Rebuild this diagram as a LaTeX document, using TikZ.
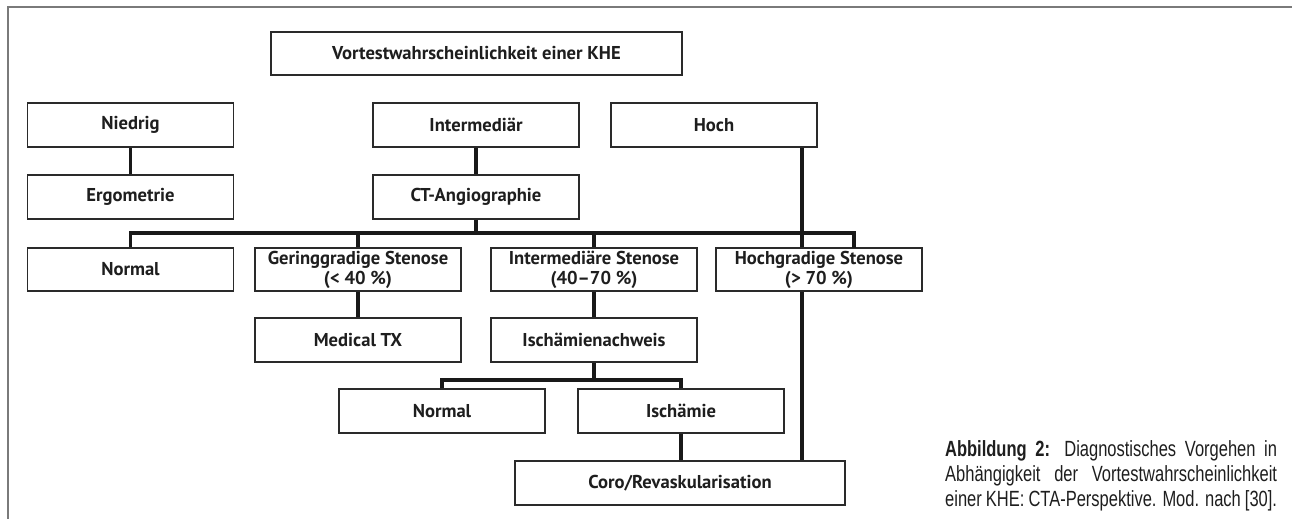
\documentclass[tikz,border=0pt]{standalone}
\usepackage{fontspec}
\setmainfont{PT Sans}
\newfontfamily\capfont{Liberation Sans}
\usepackage{tikz}
\usetikzlibrary{positioning, calc}

\definecolor{framegray}{HTML}{7A7A7A}
\definecolor{boxline}{HTML}{2A2A2A}
\definecolor{textdark}{HTML}{1E1E1E}

\begin{document}
\begin{tikzpicture}[x=1pt, y=-1pt,
    box/.style={draw=boxline, line width=1.3pt, fill=white, text=textdark,
      minimum width=206pt, minimum height=43pt, inner sep=0pt, align=center,
      font=\bfseries\fontsize{18.6}{20}\selectfont},
    link/.style={line width=3.6pt, black!90, line join=miter},
    caption/.style={text=textdark, inner sep=0pt, align=justify, text width=442.6pt,
      xscale=0.75, transform shape, font=\capfont\fontsize{22}{25}\selectfont}]
  \useasboundingbox (0,0) rectangle (1292,519);

  % Frame
  \draw[framegray, line width=1.5pt] (1292,7) -- (8,7) -- (8,519);

  % Pretest probability
  \node[box, minimum width=411pt] (title) at (476.5,53.5) {Vortestwahrscheinlichkeit einer KHE};
  \node[box, minimum height=44pt] (niedrig) at (130.5,125) {Niedrig};
  \node[box, minimum height=44pt] (inter) at (476,125) {Intermediär};
  \node[box, minimum height=44pt] (hoch) at (714,125) {Hoch};

  % First test
  \node[box, minimum height=44pt] (ergo) at (130.5,197) {Ergometrie};
  \node[box, minimum height=44pt] (cta) at (476,197) {CT-Angiographie};

  % CTA result
  \node[box] (normal) at (130.5,269.5) {Normal};
  \node[box] (gering) at (358,269.5) {Geringgradige Stenose\\(< 40 \%)};
  \node[box] (interst) at (594,269.5) {Intermediäre Stenose\\(40--70 \%)};
  \node[box] (hochst) at (819,269.5) {Hochgradige Stenose\\(> 70 \%)};

  % Further steps
  \node[box, minimum height=44pt] (medtx) at (358,340) {Medical TX};
  \node[box, minimum height=44pt] (ischn) at (594,340) {Ischämienachweis};
  \node[box, minimum height=44pt] (normalb) at (442,411) {Normal};
  \node[box, minimum height=44pt] (isch) at (681,411) {Ischämie};
  \node[box, minimum width=330pt, minimum height=44pt] (coro) at (680,483) {Coro/Revaskularisation};

  % Connectors
  \coordinate (bus) at (476,233);
  \coordinate (busend) at (854,248);
  \coordinate (hochx) at (802,147);
  \coordinate (bustwo) at (594,380);

  \draw[link] (niedrig) -- (ergo);
  \draw[link] (inter) -- (cta);
  \draw[link] (cta) -- (bus);
  \draw[link] (normal) -- (normal |- bus) -- (busend |- bus) -- (busend);
  \draw[link] (gering) -- (gering |- bus);
  \draw[link] (interst) -- (interst |- bus);
  \draw[link] (hoch.south -| hochx) -- (hochst.north -| hochx);
  \draw[link] (hochst.south -| hochx) -- (coro.north -| hochx);
  \draw[link] (gering) -- (medtx);
  \draw[link] (interst) -- (ischn);
  \draw[link] (ischn) -- (bustwo);
  \draw[link] (normalb) -- (normalb |- bustwo) -- (isch |- bustwo) -- (isch);
  \draw[link] (isch) -- (isch |- coro.north);

  % Caption
  \coordinate (capcorner) at (945,440);
  \node[caption, anchor=north west] (cap) at (capcorner) {%
    \parfillskip=0pt
    \textbf{Abbildung 2:} Diagnostisches Vorgehen in\linebreak
    Abhängigkeit der Vortestwahrscheinlichkeit\linebreak
    einer KHE: CTA-Perspektive. Mod. nach [30].\par};
\end{tikzpicture}
\end{document}
